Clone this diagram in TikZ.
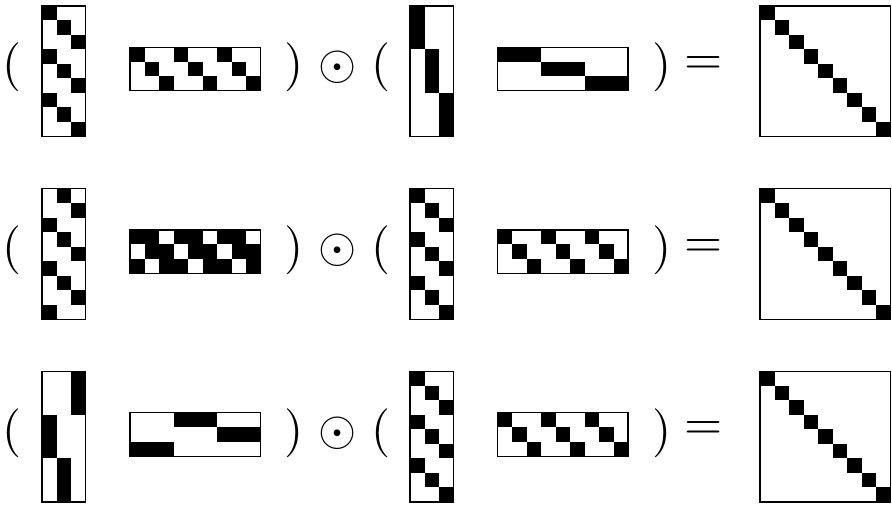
\documentclass[tikz,border=0pt]{standalone}
\tikzset{
  frame/.style={draw=black,line width=1.2pt},
  sym/.style={inner sep=0pt,outer sep=0pt,anchor=center,scale=4.9}
}
\newcommand\cellsz{14.5}
\newcommand\blk[1]{\foreach \r/\c in {#1} \fill[black] (\c*\cellsz,\r*\cellsz) rectangle ++(\cellsz,\cellsz);}
\newcommand\tallm[3]{\begin{scope}[shift={(#1,#2)}]\blk{#3}\draw[frame] (0,0) rectangle (3*\cellsz,9*\cellsz);\end{scope}}
\newcommand\widem[3]{\begin{scope}[shift={(#1,#2)}]\blk{#3}\draw[frame] (0,0) rectangle (9*\cellsz,3*\cellsz);\end{scope}}
\newcommand\sqm[2]{\begin{scope}[shift={(#1,#2)}]\blk{0/0,1/1,2/2,3/3,4/4,5/5,6/6,7/7,8/8}\draw[frame] (0,0) rectangle (9*\cellsz,9*\cellsz);\end{scope}}
\begin{document}
\begin{tikzpicture}[x=1pt,y=-1pt]
\useasboundingbox (0,0) rectangle (892,505);
% symbols
\foreach \k/\yo in {1/0,2/182.7,3/365.4}{
  \node[sym] (lpa\k) at (12.5,67.5+\yo) {$($};
  \node[sym] (rpa\k) at (294.5,67.5+\yo) {$)$};
  \node[sym] (od\k) at (337.5,67.5+\yo) {$\odot$};
  \node[sym] (lpb\k) at (381,67.5+\yo) {$($};
  \node[sym] (rpb\k) at (662.5,67.5+\yo) {$)$};
  \node[sym] (eq\k) at (703.5,65.5+\yo) {$=$};
}
% row 1
\tallm{42}{6}{0/0,1/1,2/2,3/0,4/1,5/2,6/0,7/1,8/2}
\widem{130}{47.3}{0/0,1/1,2/2,0/3,1/4,2/5,0/6,1/7,2/8}
\tallm{410}{6}{0/0,1/0,2/0,3/1,4/1,5/1,6/2,7/2,8/2}
\widem{497.5}{47.3}{0/0,0/1,0/2,1/3,1/4,1/5,2/6,2/7,2/8}
\sqm{760}{6}
% row 2
\tallm{42}{188.7}{0/1,1/2,2/0,3/1,4/2,5/0,6/1,7/2,8/0}
\widem{130}{230}{0/0,0/1,0/3,0/4,0/6,0/7,1/1,1/2,1/4,1/5,1/7,1/8,2/0,2/2,2/3,2/5,2/6,2/8}
\tallm{410}{188.7}{0/0,1/1,2/2,3/0,4/1,5/2,6/0,7/1,8/2}
\widem{497.5}{230}{0/0,1/1,2/2,0/3,1/4,2/5,0/6,1/7,2/8}
\sqm{760}{188.7}
% row 3
\tallm{42}{371.4}{0/2,1/2,2/2,3/0,4/0,5/0,6/1,7/1,8/1}
\widem{130}{412.7}{2/0,2/1,2/2,0/3,0/4,0/5,1/6,1/7,1/8}
\tallm{410}{371.4}{0/0,1/1,2/2,3/0,4/1,5/2,6/0,7/1,8/2}
\widem{497.5}{412.7}{0/0,1/1,2/2,0/3,1/4,2/5,0/6,1/7,2/8}
\sqm{760}{371.4}
\end{tikzpicture}
\end{document}
